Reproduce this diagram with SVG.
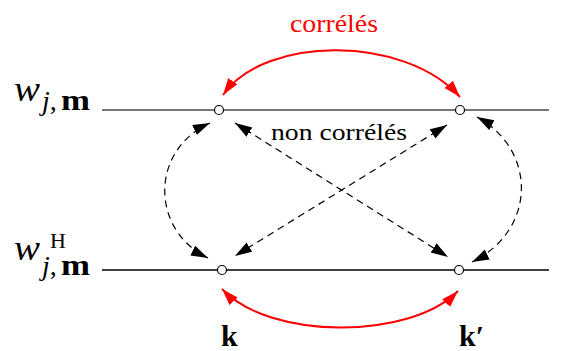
<svg xmlns="http://www.w3.org/2000/svg" width="563" height="351" viewBox="0 0 563 351">
<style>
text{font-family:"Liberation Serif","Times New Roman",serif;}
.dash{fill:none;stroke:#000;stroke-width:1.2;stroke-dasharray:7 5;marker-start:url(#ab);marker-end:url(#ab);}
.red{fill:none;stroke:#f00;stroke-width:2;marker-start:url(#ar);marker-end:url(#ar);}
.node{fill:#fff;stroke:#000;stroke-width:1.2;}
.it{font-style:italic;}
.bf{font-weight:bold;}
</style>
<defs>
<marker id="ab" markerUnits="userSpaceOnUse" markerWidth="19" markerHeight="12" refX="17" refY="5.5" orient="auto-start-reverse"><path d="M0,0 L17,5.5 L0,11 z" fill="#000"/></marker>
<marker id="ar" markerUnits="userSpaceOnUse" markerWidth="19" markerHeight="12" refX="17" refY="5.5" orient="auto-start-reverse"><path d="M0,0 L17,5.5 L0,11 z" fill="#f00"/></marker>
</defs>
<g id="lines">
<line x1="102" y1="110" x2="549" y2="110" stroke="#777" stroke-width="2"/>
<line x1="102" y1="270" x2="549" y2="270" stroke="#000" stroke-width="1.5"/>
</g>
<g id="connectors">
<path class="red" d="M223,95 C265,35 405,35 460,97"/>
<path class="red" d="M222,289 C270,340 410,340 458,291"/>
<path class="dash" d="M210,123 C150,150 150,230 208,258"/>
<path class="dash" d="M477,117 C537,150 537,230 472,262"/>
<path class="dash" d="M235,123 L448,257"/>
<path class="dash" d="M447,125 L235,256"/>
</g>
<g id="n1"><circle class="node" cx="219" cy="110" r="4.5"/></g>
<g id="n2"><circle class="node" cx="460" cy="110" r="4.5"/></g>
<g id="n3"><circle class="node" cx="222" cy="270" r="4.5"/></g>
<g id="n4"><circle class="node" cx="459" cy="270" r="4.5"/></g>
<g id="labels">
<text x="290" y="32" font-size="25" fill="#f00" textLength="88" lengthAdjust="spacingAndGlyphs">corrélés</text>
<text x="271" y="140" font-size="23" fill="#000" textLength="136" lengthAdjust="spacingAndGlyphs">non corrélés</text>
<text x="14" y="101" font-size="35" class="it" textLength="26" lengthAdjust="spacingAndGlyphs">w</text>
<text x="42" y="110" font-size="28"><tspan class="it">j</tspan><tspan>,</tspan><tspan class="bf" x="61" font-size="30" textLength="29" lengthAdjust="spacingAndGlyphs">m</tspan></text>
<text x="14" y="260" font-size="35" class="it" textLength="26" lengthAdjust="spacingAndGlyphs">w</text>
<text x="50" y="248" font-size="22">H</text>
<text x="42" y="275" font-size="28"><tspan class="it">j</tspan><tspan>,</tspan><tspan class="bf" x="61" font-size="30" textLength="29" lengthAdjust="spacingAndGlyphs">m</tspan></text>
<text x="221" y="346" font-size="30" class="bf">k</text>
<text x="459" y="346" font-size="30" class="bf">k′</text>
</g>
</svg>
